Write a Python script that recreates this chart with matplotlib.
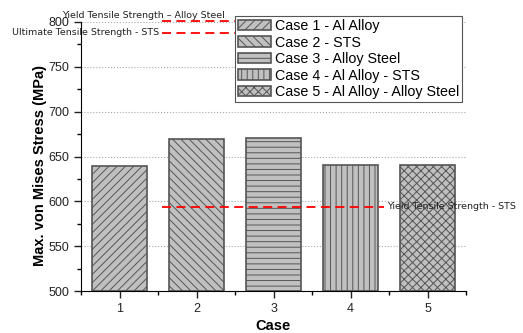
import matplotlib
matplotlib.use("Agg")
import matplotlib.pyplot as plt
from matplotlib.ticker import MultipleLocator

matplotlib.rcParams['font.family'] = ['Liberation Sans', 'DejaVu Sans']
matplotlib.rcParams['hatch.linewidth'] = 0.7
matplotlib.rcParams['hatch.color'] = '#333333'

# 최대 von Mises 응력 (MPa)
cases = [1, 2, 3, 4, 5]
stress = [639, 669, 671, 641, 641]
labels = ["Case 1 - Al Alloy", "Case 2 - STS", "Case 3 - Alloy Steel",
          "Case 4 - Al Alloy - STS", "Case 5 - Al Alloy - Alloy Steel"]
hatches = ["////", "\\\\\\\\", "---", "|||", "xxxx"]

# 재료 기준 강도 (MPa)
yield_sts = 594
ultimate_sts = 788
yield_alloy = 801

fig = plt.figure(figsize=(5.23, 3.33), dpi=100)
ax = fig.add_axes([81 / 523, 1 - 291 / 333, 385 / 523, 269 / 333])

for c, v, lab, h in zip(cases, stress, labels, hatches):
    ax.bar(c, v - 500, bottom=500, width=0.71, color="#c0c0c0",
           edgecolor="#555555", linewidth=1.2, hatch=h, label=lab, zorder=2)

note_font = dict(fontsize=6.8, family=['DejaVu Sans'], color="#222222")
dash = (0, (5, 3))

# 기준선
ax.plot([1.55, 4.43], [yield_sts] * 2, color="red", ls=dash, lw=1.3,
        zorder=3)
ax.text(4.47, yield_sts, "Yield Tensile Strength - STS", va="center",
        ha="left", zorder=4, **note_font)
ax.plot([1.55, 3.0], [ultimate_sts] * 2, color="red", ls=dash, lw=1.3,
        zorder=1)
ax.text(1.52, ultimate_sts, "Ultimate Tensile Strength - STS", va="center",
        ha="right", clip_on=False, **note_font)
ax.plot([1.55, 3.0], [yield_alloy] * 2, color="red", ls=dash, lw=1.3,
        zorder=1, clip_on=False)
ax.text(0.26, yield_alloy + 1, "Yield Tensile Strength \u2013 Alloy Steel",
        va="bottom", ha="left", clip_on=False, **note_font)

ax.set_xlim(0.5, 5.5)
ax.set_ylim(500, 800)
ax.set_xticks(cases)
ax.xaxis.set_minor_locator(MultipleLocator(0.5))
ax.yaxis.set_major_locator(MultipleLocator(50))
ax.yaxis.set_minor_locator(MultipleLocator(25))
ax.tick_params(axis="both", which="major", direction="out", length=5,
               width=1, labelsize=9, colors="#222222")
ax.tick_params(axis="both", which="minor", direction="out", length=3,
               width=1)
ax.grid(axis="y", ls=":", color="#aaaaaa", lw=0.8, zorder=0)
ax.spines["top"].set_visible(False)
ax.spines["right"].set_visible(False)
ax.set_axisbelow(True)

ax.set_xlabel("Case", fontsize=10.5, fontweight="bold")
ax.xaxis.set_label_coords(0.5, -0.103)
ax.set_ylabel("Max. von Mises Stress (MPa)", fontsize=10.5,
              fontweight="bold")
ax.yaxis.set_label_coords(-0.088, 0.468)

leg = ax.legend(loc="upper right", bbox_to_anchor=(0.99, 1.022),
                fontsize=10.3, frameon=True, fancybox=False,
                edgecolor="#555555", framealpha=1, handlelength=2.3,
                handleheight=0.75, handletextpad=0.3, labelspacing=0.18,
                borderpad=0.2, borderaxespad=0.0)
leg.get_frame().set_linewidth(0.8)
leg.set_zorder(5)

fig.savefig("out.png", dpi=100)
